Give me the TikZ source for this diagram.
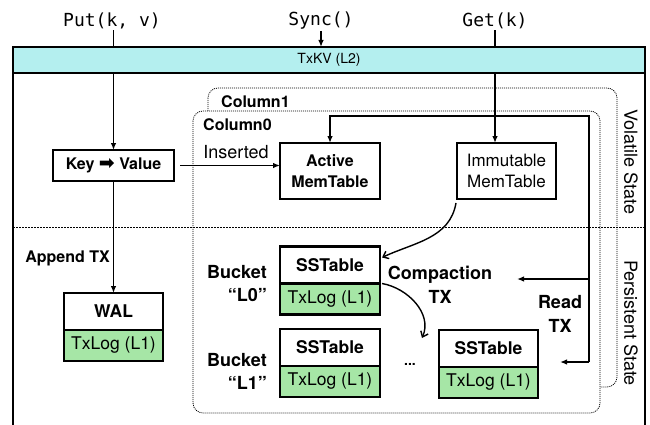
\documentclass[tikz,border=0pt]{standalone}
\usepackage{fontspec}
\setmainfont{TeX Gyre Heros}
\setmonofont{DejaVu Sans Mono}
\newfontfamily\symbfont{DejaVu Sans}
\usetikzlibrary{positioning,arrows.meta}

\definecolor{kvcyan}{RGB}{180,239,239}
\definecolor{loggreen}{RGB}{166,230,166}

\begin{document}
\begin{tikzpicture}[
  x=1pt, y=-1pt,
  every node/.style={inner sep=1pt},
  box/.style={draw, line width=2.6pt, outer sep=0pt, fill=white, align=center},
  hdr/.style={box, minimum width=99pt, minimum height=37pt, font=\fontsize{17.5}{21}\selectfont\bfseries},
  logbox/.style={box, fill=loggreen, minimum width=99pt, minimum height=31pt, font=\fontsize{17.5}{21}\selectfont},
  memtbl/.style={box, minimum width=100pt, minimum height=56pt},
  lbl/.style={font=\fontsize{16}{20}\selectfont\bfseries},
  biglbl/.style={font=\fontsize{18}{24}\selectfont\bfseries, align=center},
  api/.style={font=\fontsize{18}{20}\selectfont\ttfamily},
  statelbl/.style={font=\fontsize{18}{20}\selectfont, rotate=-90},
  arrow/.style={draw, line width=1.3pt, -{Latex[length=7pt,width=5.5pt]}},
  carrow/.style={draw, line width=1.4pt, -{Straight Barb[length=5pt,width=8pt]}},
  region/.style={draw, line width=0.8pt, dash pattern=on 1pt off 1pt, rounded corners=10pt},
  splitline/.style={draw, line width=0.8pt, dash pattern=on 1.5pt off 1.5pt},
  outerline/.style={draw, line width=2.8pt}]

  \useasboundingbox (0,0) rectangle (650,425);

  % outer frame
  \draw[outerline] (13,60) -- (13,425) (645,60) -- (645,425);

  % columns
  \draw[region] (208,88) rectangle (617,387);
  \draw[region, fill=white] (193,111) rectangle (600,413);
  \node[lbl, anchor=west] (col1) at (220,102) {Column1};
  \node[lbl, anchor=west] (col0) at (202,125) {Column0};

  % volatile / persistent split
  \draw[splitline] (13,227) -- (645,227);
  \node[statelbl] (vol)  at (631,162) {Volatile State};
  \node[statelbl] (pers) at (631,323) {Persistent State};

  % api calls
  \node[api] (put)  at (112,21) {Put(k, v)};
  \node[api] (sync) at (321,21) {Sync()};
  \node[api] (get)  at (495,21) {Get(k)};

  % boxes
  \node[box, minimum width=121pt, minimum height=31pt, font=\fontsize{16}{20}\selectfont\bfseries] (kv) at (113.5,165.5)
    {Key {\symbfont\fontsize{19}{20}\selectfont ➡} Value};
  \node[memtbl, font=\fontsize{16}{21}\selectfont\bfseries] (active) at (330,171) {Active\\MemTable};
  \node[memtbl, minimum width=99pt, font=\fontsize{17}{21}\selectfont] (immut) at (506.5,171) {Immutable\\MemTable};

  \node[hdr] (wal) at (113.5,311.5) {WAL};
  \node[logbox, below=0pt of wal] (wallog) {TxLog (L1)};

  \node[hdr, minimum width=100pt] (sst0) at (330,265) {SSTable};
  \node[logbox, minimum width=100pt, below=0pt of sst0] (sst0log) {TxLog (L1)};
  \node[hdr, minimum width=100pt] (sst1) at (330,347.5) {SSTable};
  \node[logbox, minimum width=100pt, below=0pt of sst1] (sst1log) {TxLog (L1)};
  \node[hdr] (sst2) at (488.5,348.5) {SSTable};
  \node[logbox, below=0pt of sst2] (sst2log) {TxLog (L1)};
  \node[font=\fontsize{14}{16}\selectfont\bfseries] (dots) at (410,364) {...};

  % labels
  \node[biglbl, align=right, anchor=east, font=\fontsize{18}{23}\selectfont\bfseries] (bkt0) at (268,284) {Bucket\\“L0”};
  \node[biglbl, align=right, anchor=east, font=\fontsize{18}{23}\selectfont\bfseries] (bkt1) at (268,371) {Bucket\\“L1”};
  \node[lbl, anchor=east] (append) at (111,258) {Append TX};
  \node[font=\fontsize{18}{20}\selectfont] (ins) at (236,152) {Inserted};
  \node[biglbl] (cmp) at (440,285) {Compaction\\TX};
  \node[biglbl] (rdtx) at (560,314) {Read\\TX};

  % calls through TxKV
  \draw[arrow] (put.south -| kv.north) -- (kv.north);
  \draw[arrow] (get.south) -- (get.south |- immut.north);
  \node[draw, line width=2.6pt, fill=kvcyan, minimum width=632pt, minimum height=26pt, outer sep=0pt,
    font=\fontsize{14}{16}\selectfont] (bar) at (329,60) {TxKV (L2)};
  \draw[arrow] (sync.south) -- (sync.south |- bar.north);

  % write path
  \draw[arrow, shorten <=6pt] (kv.east) -- (kv.east -| active.west);
  \draw[arrow] (kv.south) -- (wal.north);

  % flush and compaction
  \draw[carrow] ([xshift=-1pt,yshift=-4pt]immut.south west) to[out=-100, in=25]
    ([xshift=2pt,yshift=-11pt]sst0.north east);
  \coordinate (cmpend) at (422,338);
  \draw[carrow] ([xshift=2pt]sst0.south east) to[out=-10, in=66] (cmpend);

  % read path
  \coordinate (rdtop) at (589,116);
  \coordinate (rdmid) at (589,279);
  \coordinate (rdbot) at (589,362);
  \coordinate (rdcmp) at (517,279);
  \draw[arrow] (rdbot) -- (rdtop) -| (active.north);
  \draw[arrow] (rdmid) -- (rdcmp);
  \draw[arrow, shorten >=22pt] (rdbot) -- (rdbot -| sst2.east);

\end{tikzpicture}
\end{document}
